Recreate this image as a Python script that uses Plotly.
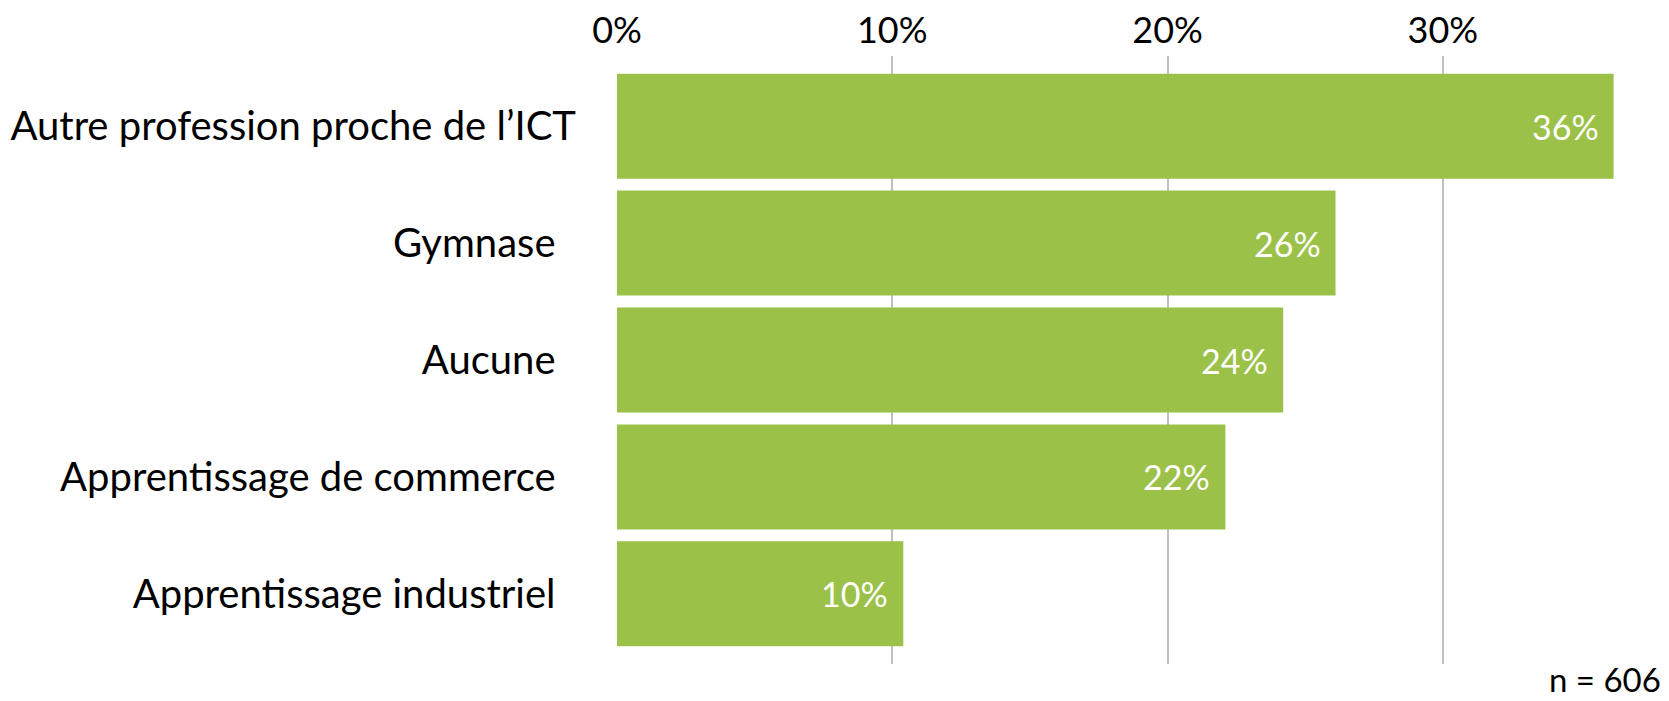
import plotly.graph_objects as go

categories = [
    "Autre profession proche de l\u2019ICT",
    "Gymnase\u00a0\u00a0",
    "Aucune\u00a0\u00a0",
    "Apprentissage de commerce\u00a0\u00a0",
    "Apprentissage industriel\u00a0\u00a0",
]
values = [36.2, 26.1, 24.2, 22.1, 10.4]
value_labels = ["36%", "26%", "24%", "22%", "10%"]
x_ticks = [0, 10, 20, 30]
x_tick_labels = ["0%", "10%", "20%", "30%"]
note = "n = 606"

# the page body has an 8px margin; the figure is sized to fill the window after it
W, H = 1661, 693
left, right, top, bottom = 609, 29, 48, 37
px_per_unit = 27.53
x_max = (W - left - right) / px_per_unit

fig = go.Figure(
    go.Bar(
        x=values,
        y=categories,
        orientation="h",
        marker=dict(color="#9bc148", line=dict(width=0)),
        hoverinfo="skip",
    )
)

for v, c, lbl in zip(values, categories, value_labels):
    fig.add_annotation(
        x=v,
        y=c,
        xref="x",
        yref="y",
        text=lbl,
        showarrow=False,
        xanchor="right",
        yanchor="middle",
        xshift=-13,
        font=dict(family="Lato", size=34, color="white"),
    )

fig.update_layout(
    width=W,
    height=H,
    margin=dict(l=left, r=right, t=top, b=bottom, pad=0, autoexpand=False),
    paper_bgcolor="white",
    plot_bgcolor="white",
    bargap=0.102,
    showlegend=False,
    font=dict(family="Lato", color="black"),
)

fig.update_xaxes(
    range=[0, x_max],
    side="top",
    tickvals=x_ticks,
    ticktext=x_tick_labels,
    tickfont=dict(family="Lato", size=36, color="black"),
    showgrid=True,
    gridcolor="#c0c0c0",
    gridwidth=1.5,
    zeroline=False,
    showline=False,
    ticks="",
    ticklabelstandoff=5,
    automargin=False,
    fixedrange=True,
)

fig.update_yaxes(
    categoryorder="array",
    categoryarray=categories,
    range=[4.6, -0.6],
    tickfont=dict(family="Lato", size=40, color="black"),
    showgrid=False,
    zeroline=False,
    showline=False,
    ticks="",
    ticklabelstandoff=40,
    automargin=False,
    fixedrange=True,
)

fig.add_annotation(
    text=note,
    xref="paper",
    yref="paper",
    x=1.0,
    y=0,
    xanchor="right",
    yanchor="bottom",
    xshift=23,
    yshift=-37,
    showarrow=False,
    font=dict(family="Lato", size=33, color="black"),
)

fig.write_html("out.html")
